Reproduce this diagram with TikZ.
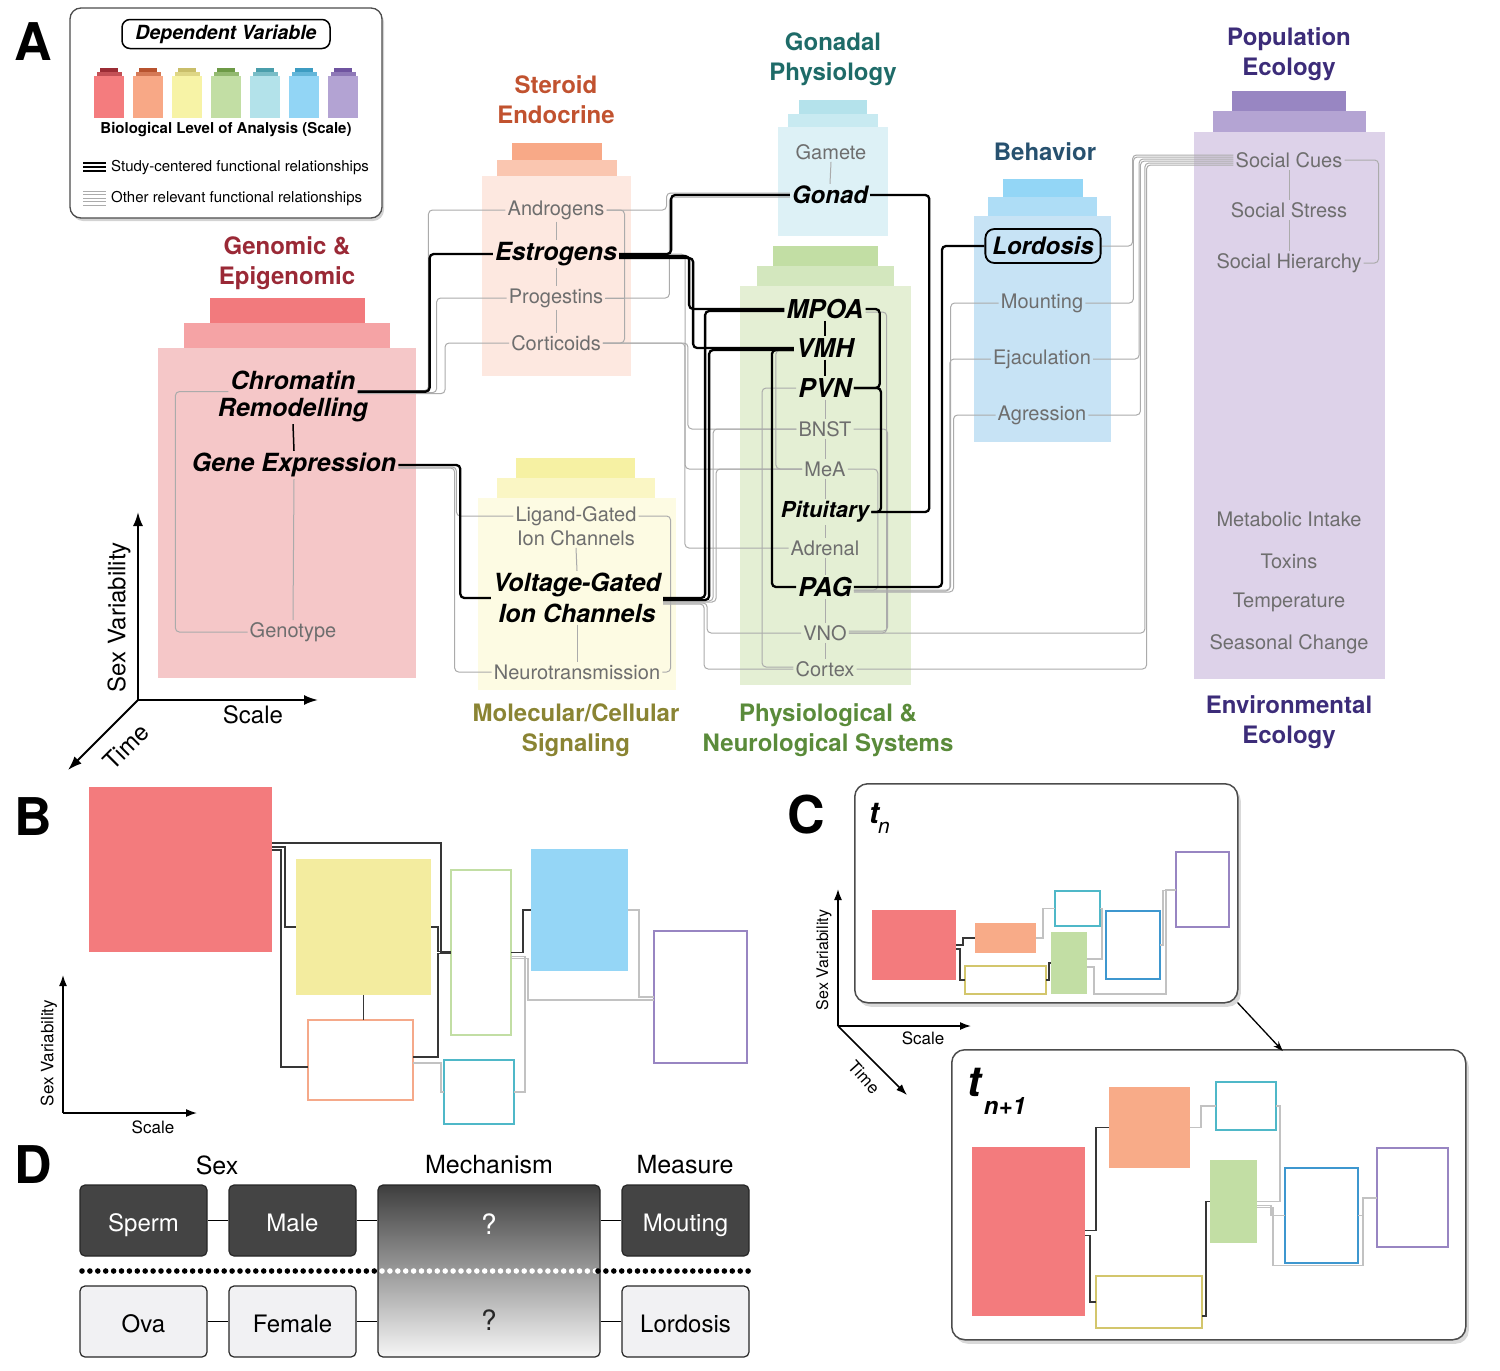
\documentclass[tikz,border=0pt]{standalone}
\usepackage{fontspec}
\setmainfont{TeX Gyre Heros}
\usetikzlibrary{arrows.meta,shadows,calc}
\pgfdeclarelayer{fills}\pgfdeclarelayer{lines}\pgfsetlayers{fills,lines,main}
% column colours
\definecolor{gRed}{HTML}{F27A7D}\definecolor{gRedB}{HTML}{F5A3A5}\definecolor{gRedC}{HTML}{F5C7C8}
\definecolor{sOr}{HTML}{F8A987}\definecolor{sOrB}{HTML}{FAC6B0}\definecolor{sOrC}{HTML}{FDE8E0}
\definecolor{goC}{HTML}{B4E2EB}\definecolor{goCB}{HTML}{C8EAF1}\definecolor{goCC}{HTML}{DDF1F6}
\definecolor{phG}{HTML}{C2DEA4}\definecolor{phGB}{HTML}{D3E7BE}\definecolor{phGC}{HTML}{E4EFD4}
\definecolor{beB}{HTML}{93D6F6}\definecolor{beBB}{HTML}{AEDDF6}\definecolor{beBC}{HTML}{C7E3F5}
\definecolor{poP}{HTML}{9886C2}\definecolor{poPB}{HTML}{B4A4D3}\definecolor{poPC}{HTML}{DDD2E9}
\definecolor{moY}{HTML}{F6F1A3}\definecolor{moYB}{HTML}{FAF6C4}\definecolor{moYC}{HTML}{FDFBE3}
% title colours
\definecolor{tcGen}{HTML}{9A2936}\definecolor{tcSte}{HTML}{C1522F}\definecolor{tcGon}{HTML}{1E6B68}
\definecolor{tcBeh}{HTML}{27516F}\definecolor{tcPop}{HTML}{3C2C79}\definecolor{tcMol}{HTML}{8A8433}
\definecolor{tcPhy}{HTML}{5A8B3A}
\definecolor{itemgray}{HTML}{6E6E6E}\definecolor{lngray}{HTML}{ABABAB}
% bottle colours
\definecolor{b1}{HTML}{F47C7E}\definecolor{c1}{HTML}{9B2C35}
\definecolor{b2}{HTML}{F8A886}\definecolor{c2}{HTML}{B8532F}
\definecolor{b3}{HTML}{F7F3A6}\definecolor{c3}{HTML}{C9BE6A}
\definecolor{b4}{HTML}{C2DEA4}\definecolor{c4}{HTML}{6D9A46}
\definecolor{b5}{HTML}{B3E2EA}\definecolor{c5}{HTML}{4A9EAB}
\definecolor{b6}{HTML}{92D5F5}\definecolor{c6}{HTML}{3D9CC2}
\definecolor{b7}{HTML}{B3A3D3}\definecolor{c7}{HTML}{6F54A0}
% panel B/C colours
\definecolor{pRed}{HTML}{F37B7D}\definecolor{pYel}{HTML}{F3EC9F}\definecolor{pGre}{HTML}{C2DEA4}
\definecolor{pBlu}{HTML}{95D6F6}\definecolor{pPur}{HTML}{9885C2}\definecolor{pOra}{HTML}{F5A98A}
\definecolor{pCya}{HTML}{4FB8C8}\definecolor{pOraF}{HTML}{F8AB88}\definecolor{pYelO}{HTML}{D3C66C}
\definecolor{pBluO}{HTML}{3E97CF}\definecolor{dkln}{HTML}{363636}\definecolor{ltln}{HTML}{C2C2C2}
% panel D colours
\definecolor{dkfill}{HTML}{444444}\definecolor{ltfill}{HTML}{F1F1F3}
\definecolor{mechtop}{HTML}{3E3E3E}\definecolor{mechbot}{HTML}{F6F6F6}
\begin{document}
\begin{tikzpicture}[x=1pt,y=-1pt,
  ttl/.style={font=\fontsize{24}{30}\selectfont\bfseries, align=center, inner sep=0pt},
  itm/.style={font=\fontsize{20}{24}\selectfont, text=itemgray, inner sep=2pt},
  key/.style={font=\fontsize{25}{31}\selectfont\bfseries\itshape, inner sep=2pt},
  big/.style={font=\fontsize{26}{30}\selectfont\bfseries\itshape, inner sep=2pt},
  blk/.style={line width=2.3pt, rounded corners=4pt, draw=black},
  gry/.style={line width=1pt, rounded corners=4pt, draw=lngray},
  panel/.style={font=\fontsize{52}{52}\selectfont\bfseries, inner sep=0pt},
  axis/.style={line width=2pt, -{Latex[length=14pt,width=10pt]}},
  saxis/.style={line width=1.5pt, -{Latex[length=11pt,width=8pt]}},
  fb/.style={inner sep=0pt, outer sep=0pt, anchor=north west, draw=none},
  ob/.style={inner sep=0pt, outer sep=0pt, anchor=north west, line width=1.8pt, fill=white},
  dkc/.style={line width=1.3pt, draw=dkln},
  ltc/.style={line width=1.3pt, draw=ltln},
  dbox/.style={draw=black!85, line width=1.2pt, rounded corners=5pt, minimum width=127pt,
     minimum height=71pt, font=\fontsize{24}{28}\selectfont, text height=27pt, text depth=5pt},
  frame/.style={draw=black!70, line width=1.5pt, rounded corners=13pt, fill=white,
     inner sep=0pt, anchor=north west,
     drop shadow={shadow xshift=3pt, shadow yshift=-4pt, opacity=.3}},
  dots/.style={line width=5.6pt, line cap=round, dash pattern=on 0pt off 7.9pt}
]
\useasboundingbox (0,0) rectangle (1500,1371);

%%%%%%%%%%%%%%%%%%%%%%%% PANEL A %%%%%%%%%%%%%%%%%%%%%%%%
\node[panel] (lA) at (33,42) {A};

\begin{pgfonlayer}{fills}
% Genomic
\fill[gRed] (210,298) rectangle (365,323);
\fill[gRedB] (184,323) rectangle (390,348);
\fill[gRedC] (158,348) rectangle (416,678);
% Steroid
\fill[sOr] (512,143) rectangle (602,160);
\fill[sOrB] (497,160) rectangle (617,176);
\fill[sOrC] (482,176) rectangle (631,376);
% Gonadal
\fill[goC] (799,100) rectangle (867,114);
\fill[goCB] (788,114) rectangle (878,127);
\fill[goCC] (778,127) rectangle (888,236);
% Physiological
\fill[phG] (773,246) rectangle (878,266);
\fill[phGB] (757,266) rectangle (894,286);
\fill[phGC] (740,286) rectangle (911,685);
% Behavior
\fill[beB] (1003,179) rectangle (1083,197);
\fill[beBB] (988,197) rectangle (1097,216);
\fill[beBC] (974,216) rectangle (1111,442);
% Population
\fill[poP] (1232,91) rectangle (1346,111);
\fill[poPB] (1213,111) rectangle (1366,132);
\fill[poPC] (1194,132) rectangle (1385,679);
% Molecular
\fill[moY] (516,458) rectangle (635,478);
\fill[moYB] (497,478) rectangle (655,498);
\fill[moYC] (478,498) rectangle (676,690);
\end{pgfonlayer}

% legend
\node[draw=black!70, line width=1.3pt, rounded corners=11pt, fill=white, minimum width=312pt,
  minimum height=210pt, drop shadow={shadow xshift=2pt,shadow yshift=-3pt,opacity=.35}] (legend) at (226,113) {};
\node[draw=black, line width=1.5pt, rounded corners=8pt, minimum width=208pt, minimum height=29pt,
  inner sep=0pt, font=\fontsize{19.5}{22}\selectfont\bfseries\itshape] (depvar) at (226,34) {Dependent Variable};
\foreach \x/\b/\c in {109/b1/c1,148/b2/c2,187/b3/c3,226/b4/c4,265/b5/c5,304/b6/c6,343/b7/c7}{
  \fill[\b] ({\x-15},76) rectangle ({\x+15},118);
  \fill[\c!55!\b] ({\x-12.5},72) rectangle ({\x+12.5},76);
  \fill[\c] ({\x-9},68) rectangle ({\x+9},72);
}
\node[font=\fontsize{15}{18}\selectfont\bfseries] (bio) at (226,130) {Biological Level of Analysis (Scale)};
\node[anchor=west, font=\fontsize{15}{18}\selectfont, inner sep=0pt] (study) at (111,168) {Study-centered functional relationships};
\node[anchor=west, font=\fontsize{15}{18}\selectfont, inner sep=0pt] (other) at (111,199) {Other relevant functional relationships};
\foreach \yy in {163,167,171} \draw[line width=1.3pt] (83,\yy) -- (106,\yy);
\foreach \yy in {191,194.5,198,201.5,205} \draw[line width=0.8pt, lngray] (83,\yy) -- (106,\yy);

% titles
\node[ttl, text=tcGen] (tGen) at (287,263) {Genomic \&\\Epigenomic};
\node[ttl, text=tcSte] (tSte) at (556,100) {Steroid\\Endocrine};
\node[ttl, text=tcGon] (tGon) at (833,59) {Gonadal\\Physiology};
\node[ttl, text=tcBeh] (tBeh) at (1045,152) {Behavior};
\node[ttl, text=tcPop] (tPop) at (1289,54) {Population\\Ecology};
\node[ttl, text=tcPop] (tEnv) at (1289,722) {Environmental\\Ecology};
\node[ttl, text=tcMol] (tMol) at (576,730) {Molecular/Cellular\\Signaling};
\node[ttl, text=tcPhy] (tPhy) at (828,730) {Physiological \&\\Neurological Systems};

% Genomic items
\node[key] (chrA) at (293,380) {Chromatin};
\node[key] (chrB) at (293,410) {Remodelling};
\node[key] (gene) at (294,465) {Gene Expression};
\node[itm] (geno) at (293,632) {Genotype};
% Steroid items
\node[itm] (andr) at (556,210) {Androgens};
\node[key] (estr) at (556,254) {Estrogens};
\node[itm] (prog) at (556,298) {Progestins};
\node[itm] (cort) at (556,343) {Corticoids};
% Gonadal items
\node[itm] (gam) at (831,152) {Gamete};
\node[key, font=\fontsize{24}{28}\selectfont\bfseries\itshape] (gonad) at (830,195) {Gonad};
% Physiological items
\node[big] (mpoa) at (825,309) {MPOA};
\node[big] (vmh) at (825,348) {VMH};
\node[big] (pvn) at (825,388) {PVN};
\node[itm] (bnst) at (825,429) {BNST};
\node[itm] (mea) at (825,469) {MeA};
\node[key, font=\fontsize{22}{26}\selectfont\bfseries\itshape] (pit) at (825,512) {Pituitary};
\node[itm] (adr) at (825,548) {Adrenal};
\node[big] (pag) at (825,587) {PAG};
\node[itm] (vno) at (825,633) {VNO};
\node[itm] (ctx) at (825,669) {Cortex};
% Behavior items
\node[key, font=\fontsize{24}{28}\selectfont\bfseries\itshape, draw=black, line width=1.8pt,
  rounded corners=9pt, fill=beBC, inner xsep=7pt, minimum height=34pt] (lord) at (1043,246) {Lordosis};
\node[itm] (mount) at (1042,303) {Mounting};
\node[itm] (ejac) at (1042,359) {Ejaculation};
\node[itm] (agr) at (1042,415) {Agression};
% Population items
\node[itm] (cues) at (1289,160) {Social Cues};
\node[itm] (stress) at (1289,210) {Social Stress};
\node[itm] (hier) at (1289,263) {Social Hierarchy};
\node[itm] (metab) at (1289,519) {Metabolic Intake};
\node[itm] (tox) at (1289,561) {Toxins};
\node[itm] (temp) at (1289,602) {Temperature};
\node[itm] (seas) at (1289,644) {Seasonal Change};
% Molecular items
\node[itm, align=center] (lig) at (576,526) {Ligand-Gated\\Ion Channels};
\node[key, align=center] (vg) at (577,598) {Voltage-Gated\\Ion Channels};
\node[itm] (neuro) at (577,672) {Neurotransmission};

% axes A
\coordinate (oA) at (138,700);
\draw[axis] (oA) -- ++(0,-188);
\draw[axis] (oA) -- ++(180,0);
\draw[axis] (oA) -- ++(-70,70);
\node[rotate=90, font=\fontsize{24}{28}\selectfont] (sxA) at (119,617) {Sex Variability};
\node[font=\fontsize{24}{28}\selectfont] (scA) at (253,715) {Scale};
\node[rotate=45, font=\fontsize{24}{28}\selectfont] (tmA) at (126,747) {Time};

\begin{pgfonlayer}{lines}
% --- gray (other relevant) connectors ---
\draw[gry] (gene.south) -- (geno.north);
\draw[gry] (chrA.south west) -- ++(-53,0) |- (geno.west);
\draw[gry] (andr.south) -- (estr.north);
\draw[gry] (estr.south) -- (prog.north);
\draw[gry] (prog.south) -- (cort.north);
\draw[gry] (andr.west) -- ++(-77,0) |- ([yshift=1pt]chrA.south east);
\draw[gry] (prog.west) -- ++(-70,0) |- ([yshift=-1pt]chrA.south east);
\draw[gry] (cort.west) -- ++(-64,0) |- ([yshift=-2pt]chrA.south east);
\draw[gry] (andr.east) -- ++(18,0) |- (cort.east);
\draw[gry] (prog.east) -- ++(20,0);
\draw[gry] (andr.east) -- ++(60,0) |- ([yshift=2pt]gonad.west);
\draw[gry] (prog.east) -- ++(64,0) |- ([yshift=-2pt]gonad.west);
\draw[gry] (cort.east) -- ++(82,0) |- (adr.west);
\draw[gry] (cort.east) -- ++(85,0) |- (bnst.west);
\draw[gry] (estr.east) -- ++(66,0) |- (mea.west);
\draw[gry] (gam.south) -- (gonad.north);
\draw[gry] (pvn.south) -- (bnst.north);
\draw[gry] (bnst.south) -- (mea.north);
\draw[gry] (mea.south) -- (pit.north);
\draw[gry] (pit.south) -- (adr.north);
\draw[gry] (adr.south) -- (pag.north);
\draw[gry] (pag.south) -- (vno.north);
\draw[gry] (vno.south) -- (ctx.north);
\draw[gry] (lig.south) -- (vg.north);
\draw[gry] (vg.south) -- (neuro.north);
\draw[gry] ([yshift=10pt]lig.west) -- ++(-57,0) |- ([yshift=-2pt]gene.east);
\draw[gry] (neuro.west) -- ++(-37,0) |- ([yshift=-3pt]gene.east);
\draw[gry] ([yshift=10pt]lig.east) -- ++(32,0) |- (neuro.east);
\draw[gry] ([yshift=-3pt]vg.east) -- ++(50,0) |- (bnst.west);
\draw[gry] ([yshift=-4pt]vg.east) -- ++(53,0) |- (mea.west);
\draw[gry] ([yshift=-5pt]vg.east) -- ++(44,0) |- (vno.west);
\draw[gry] ([yshift=-6pt]vg.east) -- ++(41,0) |- (ctx.west);
\draw[gry] (pvn.west) -- ++(-34,0) |- ([yshift=2pt]ctx.west);
\draw[gry] ([yshift=-2pt]vmh.west) -- ++(-18,0) |- (mea.west);
\draw[gry] ([yshift=-3pt]mpoa.east) -- ++(21,0) |- (vno.east);
\draw[gry] (bnst.east) -- ++(34,0) |- ([yshift=2pt]vno.east);
\draw[gry] (mea.east) -- ++(30,0) |- ([yshift=-3pt]pag.east);
\draw[gry] (mount.west) -- ++(-48,0) |- ([yshift=-3pt]pag.east);
\draw[gry] (ejac.west) -- ++(-41,0) |- ([yshift=-4pt]pag.east);
\draw[gry] (agr.west) -- ++(-42,0) |- ([yshift=-5pt]pag.east);
\draw[gry] (lord.east) -- ++(31,0) |- ([yshift=5pt]cues.west);
\draw[gry] (mount.east) -- ++(48,0) |- ([yshift=3pt]cues.west);
\draw[gry] (ejac.east) -- ++(46,0) |- ([yshift=1pt]cues.west);
\draw[gry] (agr.east) -- ++(52,0) |- ([yshift=-1pt]cues.west);
\draw[gry] (vno.east) -- ++(296,0) |- ([yshift=-3pt]cues.west);
\draw[gry] (ctx.east) -- ++(290,0) |- ([yshift=-5pt]cues.west);
\draw[gry] (cues.south) -- (stress.north);
\draw[gry] (stress.south) -- (hier.north);
\draw[gry] (cues.east) -- ++(34,0) |- (hier.east);

% --- black (study-centered) connectors ---
\draw[line width=1.5pt] (chrB.south) -- (gene.north);
\draw[line width=1.5pt] (mpoa.south) -- (vmh.north);
\draw[line width=1.5pt] (vmh.south) -- (pvn.north);
\draw[blk] (chrA.south east) -- ++(72,0) |- (estr.west);
\draw[blk] (estr.east) -- ++(52,0) |- (gonad.west);
\draw[blk] ([yshift=-2pt]estr.east) -- ++(70,0) |- (mpoa.west);
\draw[blk] ([yshift=-4pt]estr.east) -- ++(74,0) |- (vmh.west);
\draw[blk] (gene.east) -- ++(62,0) |- (vg.west);
\draw[blk] (vg.east) -- ++(42,0) |- ([yshift=-2pt]mpoa.west);
\draw[blk] ([yshift=-2pt]vg.east) -- ++(46,0) |- ([yshift=-2pt]vmh.west);
\draw[blk] ([yshift=-2pt]vmh.west) -- ++(-22,0) |- (pag.west);
\draw[blk] (mpoa.east) -- ++(14,0) |- (pvn.east);
\draw[blk] (pvn.east) -- ++(27,0) |- (pit.east);
\draw[blk] (pit.east) -- ++(58,0) |- (gonad.east);
\draw[blk] (pag.east) -- ++(88,0) |- (lord.west);
\end{pgfonlayer}

%%%%%%%%%%%%%%%%%%%%%%%% PANEL B %%%%%%%%%%%%%%%%%%%%%%%%
\node[panel] (lB) at (33,817) {B};
\node[fb, fill=pRed, minimum width=183pt, minimum height=165pt] (bR) at (89,787) {};
\node[fb, fill=pYel, minimum width=135pt, minimum height=136pt] (bY) at (296,859) {};
\node[ob, draw=pGre, minimum width=60pt, minimum height=165pt] (bG) at (451,870) {};
\node[fb, fill=pBlu, minimum width=97pt, minimum height=122pt] (bB) at (531,849) {};
\node[ob, draw=pPur, minimum width=93pt, minimum height=132pt] (bP) at (654,931) {};
\node[ob, draw=pOra, minimum width=105pt, minimum height=80pt] (bO) at (308,1020) {};
\node[ob, draw=pCya, minimum width=70pt, minimum height=64pt] (bC) at (444,1060) {};
\draw[dkc] ([yshift=-56pt]bR.north east) -| ([xshift=-10pt]bG.west) -- (bG.west);
\draw[dkc] ([yshift=-60pt]bR.north east) -- ++(13,0) |- (bY.west);
\draw[dkc] ([yshift=-63pt]bR.north east) -- ++(9,0) |- ([yshift=-7pt]bO.west);
\draw[dkc] (bY.south) -- (bY.south |- bO.north);
\draw[dkc] (bY.east) -- ++(7,0) |- ([yshift=1pt]bG.west);
\draw[dkc] ([yshift=3pt]bO.east) -- ++(25,0) |- ([yshift=-1pt]bG.west);
\draw[dkc] (bG.east) -- ++(12,0) |- (bB.west);
\draw[ltc] ([yshift=-3pt]bO.east) -- ++(28,0) |- (bC.west);
\draw[ltc] ([yshift=-4pt]bG.east) -- ++(14,0) |- (bC.east);
\draw[ltc] ([yshift=-6pt]bG.east) -- ++(17,0) |- ([yshift=-3pt]bP.west);
\draw[ltc] (bB.east) -- ++(11,0) |- (bP.west);
\coordinate (oB) at (63,1113);
\draw[saxis] (oB) -- ++(0,-138);
\draw[saxis] (oB) -- ++(134,0);
\node[rotate=90, font=\fontsize{17}{20}\selectfont] (sxB) at (49,1053) {Sex Variability};
\node[font=\fontsize{17}{20}\selectfont] (scB) at (153,1127) {Scale};

%%%%%%%%%%%%%%%%%%%%%%%% PANEL C %%%%%%%%%%%%%%%%%%%%%%%%
\node[panel] (lC) at (806,815) {C};
\node[frame, minimum width=383pt, minimum height=219pt] (ctop) at (854,783) {};
\node[frame, minimum width=514pt, minimum height=290pt] (cbot) at (951,1049) {};
\draw[line width=1.3pt, -{Stealth[length=10pt,width=7pt]}] ([xshift=-1pt,yshift=1pt]ctop.south east) -- ([xshift=74pt,yshift=-2pt]cbot.north);
\node[font=\fontsize{30}{30}\selectfont\bfseries\itshape, inner sep=0pt] (tn) at (874,813) {t};
\node[font=\fontsize{21}{21}\selectfont\itshape, inner sep=0pt] (tnn) at (884,828) {n};
\node[font=\fontsize{42}{42}\selectfont\bfseries\itshape, inner sep=0pt] (tm) at (974,1082) {t};
\node[font=\fontsize{24}{24}\selectfont\bfseries\itshape, inner sep=0pt] (tmm) at (1005,1106) {n+1};
% top boxes
\node[fb, fill=pRed, minimum width=84pt, minimum height=70pt] (cR) at (872,910) {};
\node[fb, fill=pOraF, minimum width=61pt, minimum height=30pt] (cO) at (975,923) {};
\node[ob, draw=pYelO, minimum width=81pt, minimum height=28pt] (cY) at (965,966) {};
\node[fb, fill=pGre, minimum width=36pt, minimum height=62pt] (cG) at (1051,932) {};
\node[ob, draw=pCya, minimum width=45pt, minimum height=35pt] (cC) at (1055,891) {};
\node[ob, draw=pBluO, minimum width=54pt, minimum height=68pt] (cB) at (1106,911) {};
\node[ob, draw=pPur, minimum width=53pt, minimum height=75pt] (cP) at (1176,852) {};
\draw[dkc] (cR.east) -- ++(7,0) |- (cO.west);
\draw[dkc] ([yshift=-4pt]cR.east) -- ++(4,0) |- (cY.west);
\draw[dkc] (cY.east) -- ++(3,0) |- (cG.west);
\draw[ltc] (cO.east) -- ++(7,0) |- (cC.west);
\draw[ltc] ([yshift=4pt]cG.east) -- ++(15,0) |- (cC.east);
\draw[ltc] ([yshift=-4pt]cG.east) -- ++(7,0) -- ++(0,27) -| ([xshift=-10pt]cP.west) -- (cP.west);
\draw[ltc] (cB.east) -- ++(3,0) |- ([yshift=-1pt]cP.west);
% bottom boxes
\node[fb, fill=pRed, minimum width=113pt, minimum height=169pt] (dR) at (972,1147) {};
\node[fb, fill=pOraF, minimum width=81pt, minimum height=81pt] (dO) at (1109,1087) {};
\node[ob, draw=pCya, minimum width=60pt, minimum height=48pt] (dC) at (1216,1082) {};
\node[fb, fill=pGre, minimum width=47pt, minimum height=83pt] (dG) at (1210,1160) {};
\node[ob, draw=pBluO, minimum width=73pt, minimum height=95pt] (dB) at (1285,1168) {};
\node[ob, draw=pPur, minimum width=71pt, minimum height=99pt] (dP) at (1377,1148) {};
\node[ob, draw=pYelO, minimum width=106pt, minimum height=52pt] (dY) at (1096,1276) {};
\draw[dkc] ([yshift=1pt]dR.east) -- ++(11,0) |- (dO.west);
\draw[dkc] ([yshift=-4pt]dR.east) -- ++(5,0) |- (dY.west);
\draw[dkc] ([yshift=-14pt]dY.east) -- ++(4,0) |- (dG.west);
\draw[ltc] (dO.east) -- ++(11,0) |- (dC.west);
\draw[ltc] (dG.east) -- ++(23,0) |- (dC.east);
\draw[ltc] ([yshift=-4pt]dG.east) -- ++(14,0) |- (dB.west);
\draw[ltc] ([yshift=-6pt]dG.east) -- ++(16,0) -- ++(0,58) -| ([xshift=-14pt]dP.west) -- (dP.west);
\draw[ltc] (dB.east) -- ++(5,0) |- ([yshift=-1pt]dP.west);
% axes C
\coordinate (oC) at (838,1026);
\draw[saxis] (oC) -- ++(0,-137);
\draw[saxis] (oC) -- ++(133,0);
\draw[saxis] (oC) -- ++(69,69);
\node[rotate=90, font=\fontsize{16}{19}\selectfont] (sxC) at (824,960) {Sex Variability};
\node[font=\fontsize{17}{20}\selectfont] (scC) at (923,1038) {Scale};
\node[rotate=-48, font=\fontsize{17}{20}\selectfont] (tmC) at (864,1077) {Time};

%%%%%%%%%%%%%%%%%%%%%%%% PANEL D %%%%%%%%%%%%%%%%%%%%%%%%
\node[panel] (lD) at (33,1165) {D};
\node[font=\fontsize{25}{28}\selectfont] (hSex) at (217,1165) {Sex};
\node[font=\fontsize{25}{28}\selectfont] (hMech) at (489,1165) {Mechanism};
\node[font=\fontsize{25}{28}\selectfont] (hMeas) at (685,1165) {Measure};
\node[dbox, fill=dkfill, text=white] (sperm) at (143.5,1220.5) {Sperm};
\node[dbox, fill=dkfill, text=white] (male) at (292.5,1220.5) {Male};
\node[dbox, fill=dkfill, text=white] (mout) at (685.5,1220.5) {Mouting};
\node[dbox, fill=ltfill] (ova) at (143.5,1321.5) {Ova};
\node[dbox, fill=ltfill] (fem) at (292.5,1321.5) {Female};
\node[dbox, fill=ltfill] (lordD) at (685.5,1321.5) {Lordosis};
\node[draw=black!85, line width=1.2pt, rounded corners=5pt, top color=mechtop, bottom color=mechbot,
  minimum width=222pt, minimum height=172pt] (mech) at (489,1271) {};
\node[text=white, font=\fontsize{28}{30}\selectfont] (q1) at (489,1224) {?};
\node[text=black!85, font=\fontsize{28}{30}\selectfont] (q2) at (489,1320) {?};
\draw[line width=1.2pt] (sperm) -- (male);
\draw[line width=1.2pt] (ova) -- (fem);
\draw[line width=1.2pt] (male.east) -- (male.east -| mech.west);
\draw[line width=1.2pt] (fem.east) -- (fem.east -| mech.west);
\draw[line width=1.2pt] (mout.west -| mech.east) -- (mout.west);
\draw[line width=1.2pt] (lordD.west -| mech.east) -- (lordD.west);
\coordinate (sepA) at (82,1271);
\coordinate (sepB) at (382,1271);
\coordinate (sepC) at (598,1271);
\coordinate (sepD) at (751,1271);
\draw[dots] (sepA) -- (sepB);
\draw[dots, white] (sepB) -- (sepC);
\draw[dots] (sepC) -- (sepD);
\end{tikzpicture}
\end{document}
